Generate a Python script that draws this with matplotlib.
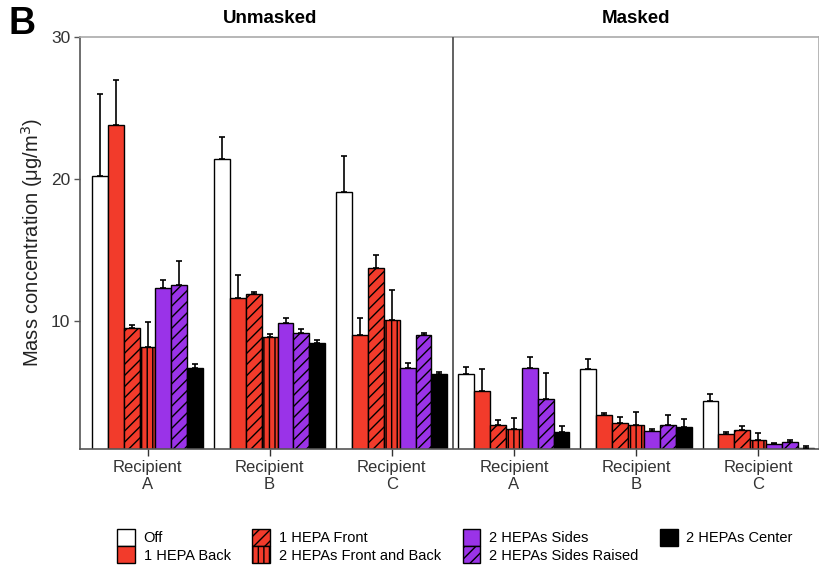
import numpy as np
import matplotlib.pyplot as plt
from matplotlib.patches import Patch

plt.rcParams['font.family'] = ['Liberation Sans', 'DejaVu Sans']
plt.rcParams['hatch.linewidth'] = 1.0

# groups: unmasked A, B, C then masked A, B, C
groups = ['Recipient\nA', 'Recipient\nB', 'Recipient\nC',
          'Recipient\nA', 'Recipient\nB', 'Recipient\nC']

labels = ['Off', '1 HEPA Back', '1 HEPA Front', '2 HEPAs Front and Back',
          '2 HEPAs Sides', '2 HEPAs Sides Raised', '2 HEPAs Center']

off = [20.2, 21.4, 19.1, 6.3, 6.6, 4.4]
off_err = [5.8, 1.55, 2.55, 0.47, 0.72, 0.47]
back = [23.8, 11.6, 9.0, 5.1, 3.36, 2.02]
back_err = [3.2, 1.66, 1.2, 1.5, 0.16, 0.18]
front = [9.5, 11.9, 13.7, 2.65, 2.8, 2.32]
front_err = [0.2, 0.17, 0.96, 0.38, 0.44, 0.28]
front_back = [8.2, 8.85, 10.1, 2.42, 2.65, 1.6]
front_back_err = [1.7, 0.2, 2.1, 0.73, 0.92, 0.49]
sides = [12.35, 9.85, 6.7, 6.67, 2.25, 1.32]
sides_err = [0.56, 0.35, 0.35, 0.82, 0.17, 0.11]
raised = [12.55, 9.13, 9.04, 4.5, 2.7, 1.5]
raised_err = [1.7, 0.33, 0.1, 1.85, 0.7, 0.12]
center = [6.7, 8.47, 6.25, 2.18, 2.56, 1.05]
center_err = [0.28, 0.2, 0.15, 0.42, 0.54, 0.15]

series = [off, back, front, front_back, sides, raised, center]
errors = [off_err, back_err, front_err, front_back_err, sides_err, raised_err, center_err]

red = '#f23b2b'
purple = '#9a33e8'
colors = ['white', red, red, red, purple, purple, 'black']
hatches = [None, None, '///', '|||', None, '///', None]

fig = plt.figure(figsize=(8.2, 5.67), dpi=100)
ax = fig.add_axes([0.0976, 0.2085, 0.9014, 0.7262])

x = np.arange(len(groups))
w = 0.13
for i, (vals, errs) in enumerate(zip(series, errors)):
    pos = x + (i - 3) * w
    ax.bar(pos, vals, width=w, color=colors[i], edgecolor='black',
           linewidth=1.0, hatch=hatches[i], zorder=2)
    ax.errorbar(pos, vals, yerr=[np.zeros(len(vals)), errs], fmt='none',
                ecolor='black', elinewidth=1.2, capsize=2.5, capthick=1.2, zorder=3)

ax.set_xlim(-0.553, 5.5)
ax.set_ylim(1, 30)
ax.set_yticks([10, 20, 30])
ax.set_xticks(x)
ax.set_xticklabels(groups, fontsize=12, color='#333333')
ax.tick_params(axis='x', length=5, width=1, color='#333333', pad=3)
ax.tick_params(axis='y', length=4, width=1, color='#555555', labelsize=12.5,
               labelcolor='#333333', pad=3)
ax.set_ylabel('Mass concentration (μg/m$^3$)', fontsize=14.5, color='#222222',
              labelpad=4)

for s in ['left', 'bottom']:
    ax.spines[s].set_color('#555555')
    ax.spines[s].set_linewidth(1.2)
for s in ['top', 'right']:
    ax.spines[s].set_color('#aaaaaa')
    ax.spines[s].set_linewidth(1.2)

# panel divider between unmasked and masked
ax.axvline(2.5, color='#555555', linewidth=1.3, zorder=4)

ax.text(1.0, 1.025, 'Unmasked', transform=ax.get_xaxis_transform(),
        ha='center', va='bottom', fontsize=13.5, fontweight='bold')
ax.text(4.0, 1.025, 'Masked', transform=ax.get_xaxis_transform(),
        ha='center', va='bottom', fontsize=13.5, fontweight='bold')
fig.text(0.01, 0.958, 'B', fontsize=27, fontweight='bold', va='center')

handles = [Patch(facecolor=colors[i], edgecolor='black', hatch=hatches[i],
                 linewidth=1.0) for i in range(len(labels))]
fig.legend(handles, labels, loc='center', bbox_to_anchor=(0.555, 0.037),
           ncol=4, frameon=False, fontsize=10.5, handlelength=1.2,
           handleheight=1.45, labelspacing=0.0, columnspacing=1.5,
           handletextpad=0.6)

fig.savefig('out.png', dpi=100)
